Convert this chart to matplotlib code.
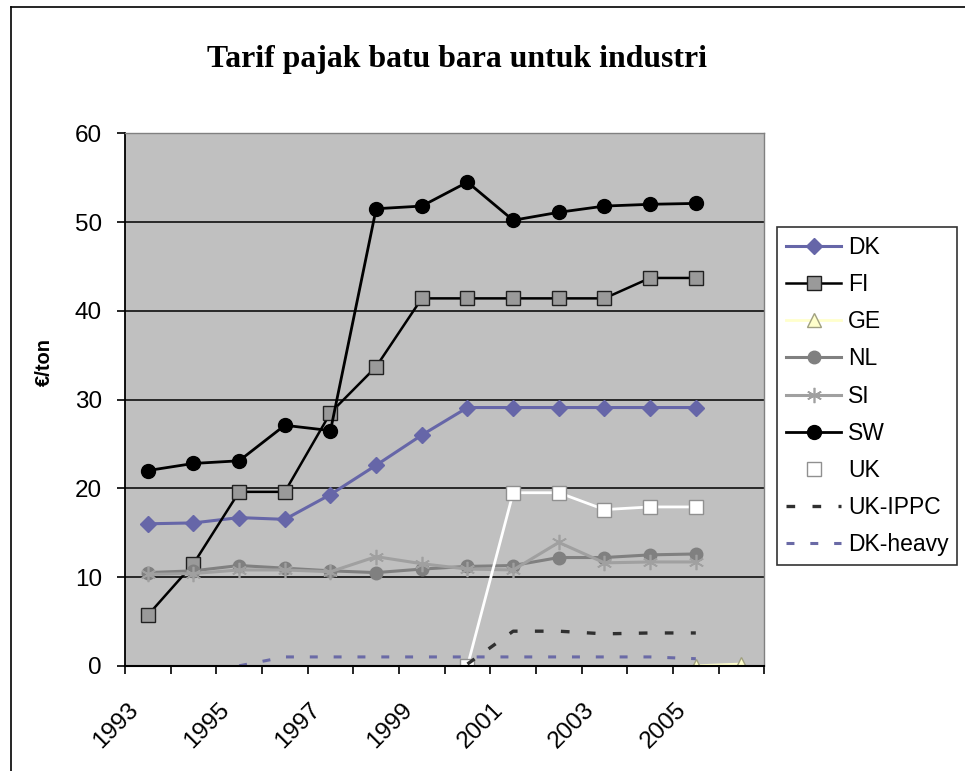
"""Coal tax rates for industry, 1993-2006."""

import matplotlib.pyplot as plt
import matplotlib.transforms as mtransforms
import numpy as np
from matplotlib.lines import Line2D

nan = np.nan

years = list(range(1993, 2007))
year_labels = [str(y) if (y - 1993) % 2 == 0 else "" for y in years]

dk = [16.0, 16.1, 16.7, 16.5, 19.3, 22.6, 26.0, 29.1, 29.1, 29.1, 29.1, 29.1, 29.1, nan]
fi = [5.7, 11.5, 19.6, 19.6, 28.5, 33.7, 41.4, 41.4, 41.4, 41.4, 41.4, 43.7, 43.7, nan]
ge = [nan] * 12 + [0.0, 0.2]
nl = [10.5, 10.7, 11.3, 11.0, 10.7, 10.5, 10.9, 11.2, 11.3, 12.2, 12.2, 12.5, 12.6, nan]
si = [10.3, 10.4, 10.8, 10.8, 10.6, 12.3, 11.5, 10.9, 10.8, 13.9, 11.6, 11.7, 11.7, nan]
sw = [22.0, 22.8, 23.1, 27.1, 26.5, 51.5, 51.8, 54.5, 50.2, 51.1, 51.8, 52.0, 52.1, nan]
uk = [nan] * 7 + [0.0, 19.5, 19.5, 17.6, 17.9, 17.9, nan]
uk_ippc = [nan] * 7 + [0.2, 3.9, 3.9, 3.6, 3.7, 3.7, nan]
dk_heavy = [nan] * 2 + [0.0, 1.0, 1.0, 1.0, 1.0, 1.0, 1.0, 1.0, 1.0, 1.0, 0.8, nan]

plt.rcParams["font.family"] = ["Liberation Sans", "DejaVu Sans"]

fig = plt.figure(figsize=(9.65, 7.71), dpi=100)
ax = fig.add_axes([125 / 965, 1 - 665.8 / 771, (764.3 - 125) / 965, (665.8 - 133.3) / 771])
ax.set_facecolor("#c0c0c0")

x = np.arange(len(years))

ax.plot(x, dk, color="#6666a8", lw=2.2, marker="D", ms=8, mfc="#6666a8", mec="#6666a8", label="DK")
ax.plot(x, fi, color="black", lw=1.8, marker="s", ms=10.5, mfc="#9a9a9a", mec="#202020", label="FI")
ax.plot(x, ge, color="#ffffcc", lw=2, marker="^", ms=10, mfc="#ffffcc", mec="#a0a080", label="GE")
ax.plot(x, nl, color="#808080", lw=2.2, marker="o", ms=9, mfc="#808080", mec="#808080", label="NL")
ax.plot(x, si, color="#a0a0a0", lw=2.2, marker=(6, 2, 0), ms=11, mec="#a0a0a0", mew=1.2, label="SI")
ax.plot(x, sw, color="black", lw=2.0, marker="o", ms=10, mfc="black", mec="black", label="SW")
ax.plot(x, uk, color="white", lw=2.0, marker="s", ms=10, mfc="white", mec="#909090", label="UK")
ax.plot(x, uk_ippc, color="#303030", lw=2.4, dashes=(2.6, 5.2), label="UK-IPPC")
ax.plot(x, dk_heavy, color="#6a6aa6", lw=2.2, dashes=(2.6, 5.2), label="DK-heavy")

ax.set_xlim(-0.5, len(years) - 0.5)
ax.set_ylim(0, 60)
ax.set_yticks(range(0, 61, 10))
ax.yaxis.grid(True, color="black", lw=1.1)
ax.set_axisbelow(True)

# tick marks sit on the category boundaries
ax.set_xticks(np.arange(-0.5, len(years), 1.0))
ax.set_xticklabels([])
ax.tick_params(axis="x", direction="out", length=6, width=1.2)
ax.tick_params(axis="y", direction="out", length=6, width=1.2, labelsize=17.5, pad=10.5)

# year labels every other category, slanted under the category centres
label_tr = mtransforms.blended_transform_factory(ax.transData, ax.transAxes) + \
    mtransforms.ScaledTranslation(-0.09, -0.45, fig.dpi_scale_trans)
for i, lab in enumerate(year_labels):
    if lab:
        ax.text(i, 0, lab, transform=label_tr, rotation=45, rotation_mode="anchor",
                ha="right", va="baseline", fontsize=17.5)

ax.spines["left"].set_linewidth(1.3)
ax.spines["bottom"].set_linewidth(1.5)
for side in ("top", "right"):
    ax.spines[side].set_color("#808080")
    ax.spines[side].set_linewidth(1.0)

fig.text(44 / 965, 1 - 362 / 771, "€/ton", rotation=90, ha="center", va="center",
         fontsize=14.5, fontweight="bold")

fig.text(0.474, 1 - 59 / 771, "Tarif pajak batu bara untuk industri", ha="center", va="center",
         fontsize=22.9, fontweight="bold", family="Liberation Serif")

leg = fig.legend(loc="upper left", bbox_to_anchor=(777 / 965, 1 - 227 / 771), fontsize=16.5,
                 frameon=True, fancybox=False, edgecolor="black", handlelength=2.43,
                 handletextpad=0.29, labelspacing=0.62, borderpad=0.38, borderaxespad=0)
leg.get_frame().set_linewidth(1.2)

# chart area border
fig.add_artist(Line2D([11 / 965, 11 / 965], [0, 1 - 7 / 771], transform=fig.transFigure,
                      color="black", lw=1.2))
fig.add_artist(Line2D([11 / 965, 1], [1 - 7 / 771, 1 - 7 / 771], transform=fig.transFigure,
                      color="black", lw=1.2))

fig.savefig("out.png", dpi=100)
